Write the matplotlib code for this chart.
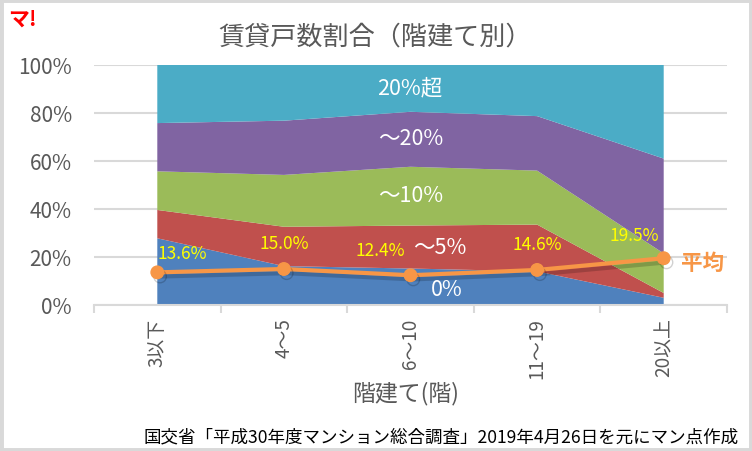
import matplotlib
matplotlib.use("Agg")
import matplotlib.pyplot as plt
import matplotlib.patheffects as pe
from matplotlib.patches import Rectangle

plt.rcParams['font.family'] = ['Noto Sans CJK JP', 'DejaVu Sans']

# data (percent of rental units, by building height)
categories = ["3以下", "4～5", "6～10", "11～19", "20以上"]
series_names = ["0%", "～5%", "～10%", "～20%", "20%超"]
share_0 = [27.8, 16.2, 15.2, 14.0, 3.0]
share_5 = [11.8, 16.4, 17.9, 19.5, 2.0]
share_10 = [16.1, 21.6, 24.5, 22.5, 16.5]
share_20 = [20.1, 22.6, 22.9, 22.7, 39.5]
share_over = [24.2, 23.2, 19.5, 21.3, 39.0]
average = [13.6, 15.0, 12.4, 14.6, 19.5]

colors = ["#4F81BD", "#C0504D", "#9BBB59", "#8064A2", "#4BACC6"]
orange = "#F79646"
gray = "#595959"
grid_c = "#D9D9D9"

fig = plt.figure(figsize=(7.52, 4.52), dpi=100)
ax = fig.add_axes([94 / 752, 1 - 306 / 452, (727 - 94) / 752, (306 - 66) / 452])

x = list(range(len(categories)))
ax.stackplot(x, share_0, share_5, share_10, share_20, share_over,
             colors=colors, zorder=2, linewidth=0)

line, = ax.plot(x, average, color=orange, lw=3, marker="o", ms=9, zorder=4,
                solid_capstyle="round")
line.set_path_effects([pe.SimpleLineShadow(offset=(2, -3), shadow_color="k", alpha=0.18),
                       pe.Normal()])

# data labels above the average line
label_offsets = [(18, 14), (0, 19), (-22, 18), (0, 19), (-21, 17)]
for xi, v, off in zip(x, average, label_offsets):
    ax.annotate(f"{v:.1f}%", (xi, v), xytext=off, textcoords="offset points",
                ha="center", va="center", color="#FFFF00", fontsize=12.5, zorder=5)

# series names inside the areas
name_pos = [(447, 290), (440, 248), (411, 196), (411, 139), (410, 88)]
for name, (px, py) in zip(series_names, name_pos):
    fig.text(px / 752, 1 - py / 452, name, color="white", fontsize=15.5,
             ha="center", va="center")
fig.text(703 / 752, 1 - 263 / 452, "平均", color=orange, fontsize=15.5,
         fontweight="bold", ha="center", va="center")

ax.set_xlim(-0.5, 4.5)
ax.set_ylim(0, 100)
ax.set_yticks([0, 20, 40, 60, 80, 100])
ax.set_yticklabels([f"{t}%" for t in [0, 20, 40, 60, 80, 100]])
ax.set_xticks(x)
ax.set_xticklabels(categories, rotation=90)
ax.set_xticks([i - 0.5 for i in range(len(categories) + 1)], minor=True)
ax.tick_params(axis="x", which="major", length=0, pad=9, colors=gray, labelsize=13.6)
ax.tick_params(axis="x", which="minor", length=6, color=grid_c, width=1.5)
ax.tick_params(axis="y", length=0, pad=16, colors=gray, labelsize=15)
ax.grid(axis="y", color=grid_c, lw=1.5, zorder=1)
ax.set_axisbelow(True)
for s in ["top", "right", "left"]:
    ax.spines[s].set_visible(False)
ax.spines["bottom"].set_color(grid_c)
ax.spines["bottom"].set_linewidth(1.5)

fig.text(406 / 752, 1 - 394 / 452, "階建て(階)", color=gray, fontsize=16.5,
         ha="center", va="center")

fig.text(375 / 752, 1 - 37 / 452, "賃貸戸数割合（階建て別）", color=gray,
         fontsize=18.8, ha="center", va="center")
fig.text(8 / 752, 1 - 19 / 452, "マ!", color="#FF0000", fontsize=15,
         fontweight="bold", ha="left", va="center")
fig.text(739 / 752, 1 - 437 / 452,
         "国交省「平成30年度マンション総合調査」2019年4月26日を元にマン点作成",
         color="black", fontsize=12.6, ha="right", va="center")

fig.patches.append(Rectangle((0, 0), 1, 1, transform=fig.transFigure,
                             fill=False, edgecolor=grid_c, lw=5))

fig.savefig("out.png", dpi=100)
